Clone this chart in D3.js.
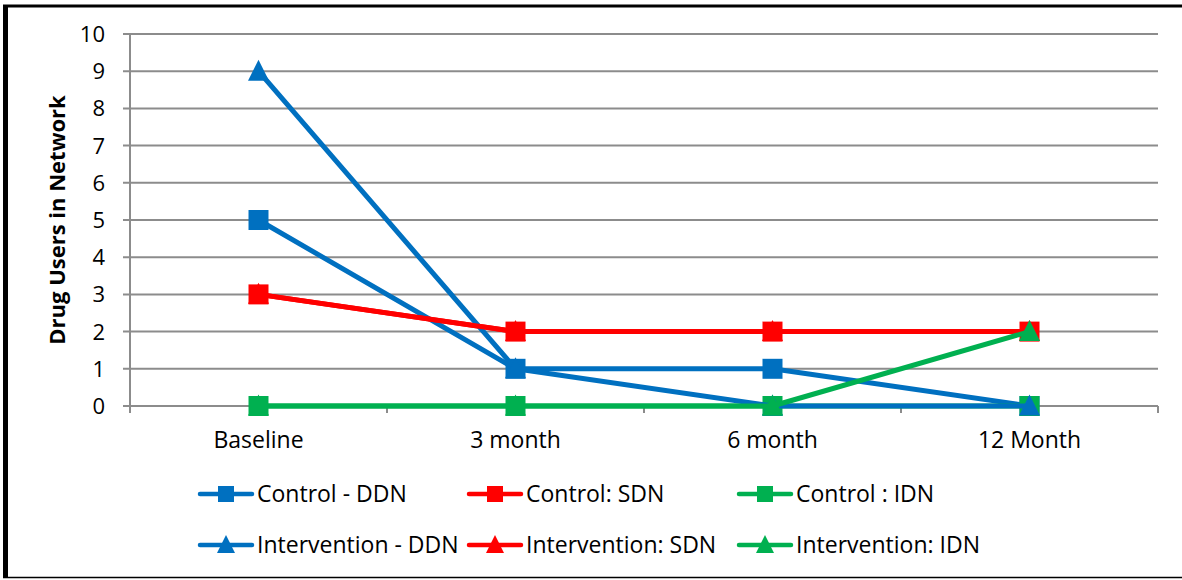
<!DOCTYPE html>
<html>
<head>
<meta charset="utf-8">
<script src="https://cdn.jsdelivr.net/npm/d3@7"></script>
<style>
  body { margin: 0; background: #fff; }
  svg text { font-family: "Open Sans", sans-serif; fill: #000; }
</style>
</head>
<body>
<div id="chart"></div>
<script>
// categories along the x axis
var categories = ["Baseline", "3 month", "6 month", "12 Month"];
var yTicks = [0, 1, 2, 3, 4, 5, 6, 7, 8, 9, 10];

// series values, in draw order
var controlDDN = [5, 1, 1, 0];
var controlSDN = [3, 2, 2, 2];
var controlIDN = [0, 0, 0, 0];
var interventionDDN = [9, 1, 0, 0];
var interventionSDN = [3, 2, 2, 2];
var interventionIDN = [0, 0, 0, 2];

var seriesNames = ["Control - DDN", "Control: SDN", "Control : IDN",
  "Intervention - DDN", "Intervention: SDN", "Intervention: IDN"];

var blue = "#0070C0", red = "#FF0000", green = "#00B050";

var series = [
  { name: seriesNames[0], values: controlDDN, color: blue, shape: "square" },
  { name: seriesNames[1], values: controlSDN, color: red, shape: "square" },
  { name: seriesNames[2], values: controlIDN, color: green, shape: "square" },
  { name: seriesNames[3], values: interventionDDN, color: blue, shape: "triangle" },
  { name: seriesNames[4], values: interventionSDN, color: red, shape: "triangle" },
  { name: seriesNames[5], values: interventionIDN, color: green, shape: "triangle" }
];

var width = 1182, height = 580;
var plot = { left: 130, right: 1158, top: 34, bottom: 406 };

var svg = d3.select("#chart").append("svg")
  .attr("width", width)
  .attr("height", height);

// outer frame
svg.append("line").attr("x1", 3).attr("x2", width).attr("y1", 6).attr("y2", 6)
  .attr("stroke", "#000").attr("stroke-width", 3);
svg.append("line").attr("x1", 5.5).attr("x2", 5.5).attr("y1", 5).attr("y2", 578)
  .attr("stroke", "#000").attr("stroke-width", 5);
svg.append("line").attr("x1", 3).attr("x2", width).attr("y1", 577.5).attr("y2", 577.5)
  .attr("stroke", "#000").attr("stroke-width", 1.5);

var x = d3.scaleBand().domain(categories).range([plot.left, plot.right]);
var y = d3.scaleLinear().domain([0, 10]).range([plot.bottom, plot.top]);

// horizontal gridlines
svg.append("g").selectAll("line")
  .data(yTicks)
  .enter().append("line")
  .attr("x1", plot.left - 7)
  .attr("x2", plot.right)
  .attr("y1", function (d) { return y(d); })
  .attr("y2", function (d) { return y(d); })
  .attr("stroke", "#8c8c8c")
  .attr("stroke-width", 2);

// y axis line
svg.append("line")
  .attr("x1", plot.left).attr("x2", plot.left)
  .attr("y1", plot.top).attr("y2", plot.bottom + 6)
  .attr("stroke", "#8c8c8c").attr("stroke-width", 2);

// x tick marks at category boundaries
var bounds = categories.map(function (c) { return x(c); }).concat([plot.right]);
svg.append("g").selectAll("line")
  .data(bounds)
  .enter().append("line")
  .attr("x1", function (d) { return d; })
  .attr("x2", function (d) { return d; })
  .attr("y1", plot.bottom)
  .attr("y2", plot.bottom + 7)
  .attr("stroke", "#8c8c8c")
  .attr("stroke-width", 2);

// y tick labels
svg.append("g").selectAll("text")
  .data(yTicks)
  .enter().append("text")
  .attr("x", 105)
  .attr("y", function (d) { return y(d); })
  .attr("dy", "0.36em")
  .attr("text-anchor", "end")
  .style("font-size", "22px")
  .text(function (d) { return d; });

// category labels
svg.append("g").selectAll("text")
  .data(categories)
  .enter().append("text")
  .attr("x", function (d) { return x(d) + x.bandwidth() / 2; })
  .attr("y", 448)
  .attr("text-anchor", "middle")
  .style("font-size", "23px")
  .text(function (d) { return d; });

// y axis title
svg.append("text")
  .attr("transform", "translate(65," + 220 + ") rotate(-90)")
  .attr("text-anchor", "middle")
  .style("font-size", "22px")
  .style("font-weight", "bold")
  .text("Drug Users in Network");

function markerPath(shape, size) {
  if (shape === "square") {
    var h = size / 2;
    return "M" + (-h) + "," + (-h) + "H" + h + "V" + h + "H" + (-h) + "Z";
  }
  var w = size / 2;
  return "M0," + (-size * 0.55) + "L" + w + "," + (size * 0.45) + "L" + (-w) + "," + (size * 0.45) + "Z";
}

var line = d3.line()
  .x(function (d, i) { return x(categories[i]) + x.bandwidth() / 2; })
  .y(function (d) { return y(d); });

// lines and markers, one series at a time
series.forEach(function (s) {
  var g = svg.append("g");
  g.append("path")
    .attr("d", line(s.values))
    .attr("fill", "none")
    .attr("stroke", s.color)
    .attr("stroke-width", 5)
    .attr("stroke-linejoin", "round");
  g.selectAll("path.mark")
    .data(s.values)
    .enter().append("path")
    .attr("class", "mark")
    .attr("transform", function (d, i) {
      return "translate(" + (x(categories[i]) + x.bandwidth() / 2) + "," + y(d) + ")";
    })
    .attr("d", markerPath(s.shape, s.shape === "square" ? 20 : 21))
    .attr("fill", s.color);
});

// legend: two rows of three
var legendCols = [198, 467, 737];
var legendRows = [494, 545];
var legend = svg.append("g").selectAll("g")
  .data(series)
  .enter().append("g")
  .attr("transform", function (d, i) {
    return "translate(" + legendCols[i % 3] + "," + legendRows[Math.floor(i / 3)] + ")";
  });

legend.append("line")
  .attr("x1", 2).attr("x2", 54)
  .attr("stroke", function (d) { return d.color; })
  .attr("stroke-width", 4.5)
  .attr("stroke-linecap", "round");

legend.append("path")
  .attr("transform", "translate(28,0)")
  .attr("d", function (d) { return markerPath(d.shape, d.shape === "square" ? 16 : 18); })
  .attr("fill", function (d) { return d.color; });

legend.append("text")
  .attr("x", 59)
  .attr("dy", "0.36em")
  .style("font-size", "23px")
  .text(function (d) { return d.name; });
</script>
</body>
</html>
